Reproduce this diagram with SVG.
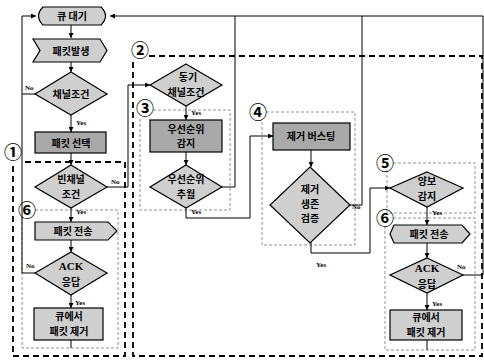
<svg xmlns="http://www.w3.org/2000/svg" width="484" height="360" viewBox="0 0 484 360">
<style>
.lt{fill:#cfcfcf;stroke:#000;stroke-width:1.2}
.dk{fill:#a9a9a9;stroke:#000;stroke-width:1.2}
.t{font-family:"Noto Sans CJK KR","Noto Sans",sans-serif;font-weight:bold;font-size:10px;fill:#000;text-anchor:middle}
.s{font-family:"Liberation Serif",serif;font-weight:bold;font-size:7px;fill:#000}
.a{font-family:"Liberation Serif",serif;font-weight:bold;font-size:11px;fill:#000;text-anchor:middle}
.n{font-family:"Noto Sans CJK KR",sans-serif;font-weight:bold;font-size:18px;fill:#000;text-anchor:middle}
.c{fill:none;stroke:#000;stroke-width:1}
.big{fill:none;stroke:#000;stroke-width:1.8;stroke-dasharray:6 4}
.thin{fill:none;stroke:#777;stroke-width:0.8;stroke-dasharray:3 2}
</style>
<defs>
<marker id="ah" viewBox="0 0 6 6" refX="6" refY="3" markerWidth="5" markerHeight="5" orient="auto"><path d="M0,0 L6,3 L0,6 z" fill="#000"/></marker>
</defs>
<rect width="484" height="360" fill="#fff"/>

<g id="regions">
<path class="big" d="M25,162 H125 V356 H13 V165"/>
<path class="big" d="M149,56 H482 V356 H133 V62"/>
<path class="thin" d="M35,210 H118 V348 H22 V217"/>
<path class="thin" d="M153,110 H230 V210 H140 V117"/>
<path class="thin" d="M266,112 H355 V245 H262 V119"/>
<path class="thin" d="M393,163 H475 V213 H387 V170"/>
<path class="thin" d="M393,218 H475 V350 H385 V225"/>
<text class="n" x="13" y="159">①</text>
<text class="n" x="140" y="57">②</text>
<text class="n" x="145" y="115">③</text>
<text class="n" x="258" y="119">④</text>
<text class="n" x="385" y="170">⑤</text>
<text class="n" x="27" y="217">⑥</text>
<text class="n" x="385" y="225">⑥</text>
</g>

<g id="connectors">
<path class="c" d="M35,94 H22"/>
<path class="c" d="M35,273 H22 V16 H36" marker-end="url(#ah)"/>
<path class="c" d="M71,25 V38" marker-end="url(#ah)"/>
<path class="c" d="M71,62 V72" marker-end="url(#ah)"/>
<path class="c" d="M71,115 V132" marker-end="url(#ah)"/>
<path class="c" d="M71,153 V165" marker-end="url(#ah)"/>
<path class="c" d="M71,207 V222" marker-end="url(#ah)"/>
<path class="c" d="M71,240 V252" marker-end="url(#ah)"/>
<path class="c" d="M71,295 V308" marker-end="url(#ah)"/>
<path class="c" d="M71,340 V348"/>
<path class="c" d="M107,187 H128 V85 H150" marker-end="url(#ah)"/>
<path class="c" d="M186,106 V120" marker-end="url(#ah)"/>
<path class="c" d="M186,152 V165" marker-end="url(#ah)"/>
<path class="c" d="M222,187 H235 V16"/>
<path class="c" d="M463,275 H483 V16 H110" marker-end="url(#ah)"/>
<path class="c" d="M186,207 V218 H250 V136 H273" marker-end="url(#ah)"/>
<path class="c" d="M311,150 V167" marker-end="url(#ah)"/>
<path class="c" d="M350,205 H362 V16"/>
<path class="c" d="M311,242 V253 H370 V188 H390" marker-end="url(#ah)"/>
<path class="c" d="M427,207 V225" marker-end="url(#ah)"/>
<path class="c" d="M427,243 V258" marker-end="url(#ah)"/>
<path class="c" d="M427,293 V310" marker-end="url(#ah)"/>
<path class="c" d="M427,340 V350"/>
<text class="s" x="25" y="90">No</text>
<text class="s" x="76" y="125">Yes</text>
<text class="s" x="111" y="184">No</text>
<text class="s" x="76" y="214">Yes</text>
<text class="s" x="26" y="268">No</text>
<text class="s" x="75" y="305">Yes</text>
<text class="s" x="191" y="115">Yes</text>
<text class="s" x="191" y="214">Yes</text>
<text class="s" x="352" y="209">No</text>
<text class="s" x="316" y="267">Yes</text>
<text class="s" x="432" y="215">Yes</text>
<text class="s" x="457" y="269">No</text>
<text class="s" x="432" y="306">Yes</text>
</g>

<g id="n1"><path class="lt" d="M43,7 H101 Q110,16 101,25 H43 Q34,16 43,7 Z"/><text class="t" x="72" y="20">큐 대기</text></g>
<g id="n2"><path class="lt" d="M33,39 H100 L107,50.5 L100,62 H33 L40,50.5 Z"/><text class="t" x="71" y="55">패킷발생</text></g>
<g id="n3"><path class="lt" d="M71,72 L107,94 L71,115 L35,94 Z"/><text class="t" x="71" y="98">채널조건</text></g>
<g id="n4"><rect class="dk" x="35" y="132" width="71" height="21"/><text class="t" x="71" y="146.5">패킷 선택</text></g>
<g id="n5"><path class="lt" d="M71,165 L107,187 L71,208 L35,187 Z"/><text class="t" x="71" y="183">빈채널</text><text class="t" x="71" y="197.5">조건</text></g>
<g id="n6"><path class="lt" d="M35,222 H108 L117,231 L108,240 H35 Z"/><text class="t" x="73" y="234.5">패킷 전송</text></g>
<g id="n7"><path class="lt" d="M71,252 L107,273 L71,295 L35,273 Z"/><text class="a" x="71" y="270">ACK</text><text class="t" x="71" y="286">응답</text></g>
<g id="n8"><rect class="lt" x="34" y="308" width="69" height="32"/><text class="t" x="69" y="320">큐에서</text><text class="t" x="69" y="335">패킷 제거</text></g>

<g id="n9"><path class="lt" d="M186,64 L222,85 L186,106 L150,85 Z"/><text class="t" x="188" y="81">동기</text><text class="t" x="186" y="95.5">채널조건</text></g>
<g id="n10"><rect class="dk" x="150" y="120" width="72" height="32"/><text class="t" x="186" y="132.5">우선순위</text><text class="t" x="186" y="147">감지</text></g>
<g id="n11"><path class="lt" d="M186,165 L222,187 L186,208 L150,187 Z"/><text class="t" x="186" y="183">우선순위</text><text class="t" x="186" y="197.5">추월</text></g>

<g id="n12"><rect class="dk" x="273" y="123" width="77" height="27"/><text class="t" x="311" y="140">제거 버스팅</text></g>
<g id="n13"><path class="lt" d="M310,167 L350,205 L310,243 L270,205 Z"/><text class="t" x="310" y="193">제거</text><text class="t" x="310" y="207.5">생존</text><text class="t" x="310" y="222">검증</text></g>

<g id="n14"><path class="lt" d="M427,172 L463,188 L427,207 L390,188 Z"/><text class="t" x="427" y="185">양보</text><text class="t" x="427" y="199.5">감지</text></g>
<g id="n15"><path class="lt" d="M394,225 H462 L470,234 L462,243 H394 L390,234 Z"/><text class="t" x="429" y="237.5">패킷 전송</text></g>
<g id="n16"><path class="lt" d="M427,258 L463,275 L427,293 L390,275 Z"/><text class="a" x="427" y="272">ACK</text><text class="t" x="427" y="288">응답</text></g>
<g id="n17"><rect class="lt" x="390" y="310" width="72" height="30"/><text class="t" x="426" y="321">큐에서</text><text class="t" x="426" y="335.5">패킷 제거</text></g>
</svg>
